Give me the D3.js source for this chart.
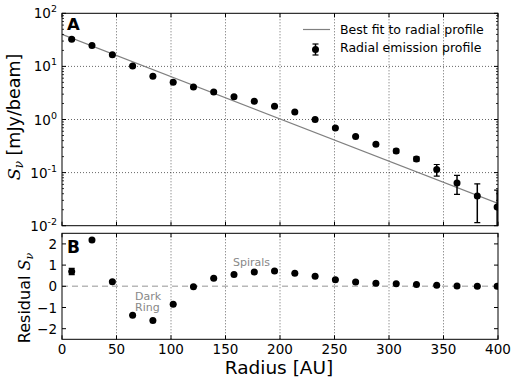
<!DOCTYPE html>
<html><head><meta charset="utf-8">
<script src="https://cdn.jsdelivr.net/npm/d3@7"></script>
<style>
body{margin:0;background:#fff;}
svg text{font-family:"DejaVu Sans",sans-serif;}
</style></head><body>
<svg id="c" width="518" height="385"></svg>
<script>
const radius = [8.9,27.5,46.2,64.8,83.4,102.0,120.6,139.2,157.8,176.4,195.0,213.6,232.2,250.8,269.4,288.0,306.6,325.2,343.8,362.4,381.0,399.2];
const flux = [32.5,24.7,16.5,10.2,6.54,5.04,4.11,3.31,2.67,2.21,1.78,1.39,1.0,0.695,0.479,0.343,0.256,0.181,0.114,0.064,0.0364,0.0226];
const fluxErr = [1.5,0.8,0.5,0.3,0.2,0.15,0.12,0.1,0.08,0.06,0.05,0.04,0.03,0.02,0.015,0.015,0.02,0.017,0.028,0.025,0.025,0.024];
const residual = [0.7,2.18,0.22,-1.36,-1.61,-0.85,-0.02,0.38,0.56,0.67,0.72,0.61,0.47,0.31,0.2,0.14,0.12,0.09,0.05,0.02,0.0,0.0];
const residualErr = [0.15,0.05,0.04,0.03,0.03,0.03,0.03,0.03,0.03,0.03,0.03,0.03,0.03,0.03,0.03,0.03,0.03,0.03,0.03,0.03,0.03,0.03];
const fitRadius = [0,400];
const fitFlux = [40,0.0262];
const xTicks = [0,50,100,150,200,250,300,350,400];
const yTicksA = [-2,-1,0,1,2];
const yTicksB = [-2,-1,0,1,2];

const svg = d3.select("#c");
const L=62, R=498, Atop=13.3, Abot=225.7, Btop=233.3, Bbot=339.3;
const x = d3.scaleLinear().domain([0,400]).range([L,R]);
const yA = d3.scaleLog().domain([0.01,100]).range([Abot,Atop]);
const yB = d3.scaleLinear().domain([-2.5,2.5]).range([Bbot,Btop]);

svg.append("defs").html(`<clipPath id="clipA"><rect x="${L}" y="${Atop}" width="${R-L}" height="${Abot-Atop}"/></clipPath>
<clipPath id="clipB"><rect x="${L}" y="${Btop}" width="${R-L}" height="${Bbot-Btop}"/></clipPath>`);

// grids
const gA = svg.append("g");
gA.selectAll("line.vx").data(xTicks.slice(1,-1)).join("line")
  .attr("x1",d=>x(d)).attr("x2",d=>x(d)).attr("y1",Atop).attr("y2",Abot)
  .attr("stroke","#000").attr("stroke-width",0.6).attr("stroke-dasharray","1,2");
gA.selectAll("line.hy").data(yTicksA.slice(1,-1)).join("line")
  .attr("x1",L).attr("x2",R).attr("y1",d=>yA(Math.pow(10,d))).attr("y2",d=>yA(Math.pow(10,d)))
  .attr("stroke","#000").attr("stroke-width",0.6).attr("stroke-dasharray","1,2");
const gB = svg.append("g");
gB.selectAll("line").data(xTicks.slice(1,-1)).join("line")
  .attr("x1",d=>x(d)).attr("x2",d=>x(d)).attr("y1",Btop).attr("y2",Bbot)
  .attr("stroke","#000").attr("stroke-width",0.6).attr("stroke-dasharray","1,2");

// zero line
svg.append("line").attr("x1",L).attr("x2",R).attr("y1",yB(0)).attr("y2",yB(0))
  .attr("stroke","#b8b8b8").attr("stroke-width",1.5).attr("stroke-dasharray","6,4");

// fit line
const line = d3.line().x((d,i)=>x(fitRadius[i])).y((d,i)=>yA(fitFlux[i]));
svg.append("path").attr("clip-path","url(#clipA)").attr("d",line(fitRadius))
  .attr("fill","none").attr("stroke","#808080").attr("stroke-width",1.2);

function errBar(g, cx, lo, hi, capLo){
  g.append("line").attr("x1",cx).attr("x2",cx).attr("y1",lo).attr("y2",hi).attr("stroke","#000").attr("stroke-width",1.5);
  g.append("line").attr("x1",cx-3).attr("x2",cx+3).attr("y1",hi).attr("y2",hi).attr("stroke","#000").attr("stroke-width",1.2);
  if (capLo) g.append("line").attr("x1",cx-3).attr("x2",cx+3).attr("y1",lo).attr("y2",lo).attr("stroke","#000").attr("stroke-width",1.2);
}

// panel A points
const pA = svg.append("g").attr("clip-path","url(#clipA)");
radius.forEach((r,i)=>{
  const v=flux[i], e=fluxErr[i];
  const ok = v-e>0;
  errBar(pA, x(r), ok? yA(v-e) : Abot+10, yA(v+e), ok);
});
pA.selectAll("circle").data(radius).join("circle")
  .attr("cx",d=>x(d)).attr("cy",(d,i)=>yA(flux[i])).attr("r",3.5).attr("fill","#000");

// panel B points
const pB = svg.append("g").attr("clip-path","url(#clipB)");
radius.forEach((r,i)=>{
  const v=residual[i], e=residualErr[i];
  errBar(pB, x(r), yB(v-e), yB(v+e), true);
});
pB.selectAll("circle").data(radius).join("circle")
  .attr("cx",d=>x(d)).attr("cy",(d,i)=>yB(residual[i])).attr("r",3.5).attr("fill","#000");

// ticks (inward)
function xTicksFor(top,bot){
  const g=svg.append("g");
  xTicks.forEach(t=>{
    g.append("line").attr("x1",x(t)).attr("x2",x(t)).attr("y1",bot).attr("y2",bot-4).attr("stroke","#000");
    g.append("line").attr("x1",x(t)).attr("x2",x(t)).attr("y1",top).attr("y2",top+4).attr("stroke","#000");
  });
}
xTicksFor(Atop,Abot); xTicksFor(Btop,Bbot);
const gt = svg.append("g");
yTicksA.forEach(p=>{
  const yy=yA(Math.pow(10,p));
  gt.append("line").attr("x1",L).attr("x2",L+4).attr("y1",yy).attr("y2",yy).attr("stroke","#000");
  gt.append("line").attr("x1",R).attr("x2",R-4).attr("y1",yy).attr("y2",yy).attr("stroke","#000");
  if (p<2) for(let k=2;k<10;k++){
    const ym=yA(k*Math.pow(10,p));
    gt.append("line").attr("x1",L).attr("x2",L+2).attr("y1",ym).attr("y2",ym).attr("stroke","#000").attr("stroke-width",0.8);
    gt.append("line").attr("x1",R).attr("x2",R-2).attr("y1",ym).attr("y2",ym).attr("stroke","#000").attr("stroke-width",0.8);
  }
  const tx=gt.append("text").attr("x",L-5).attr("y",yy+5).attr("text-anchor","end").attr("font-size",13.5);
  tx.append("tspan").text("10");
  tx.append("tspan").attr("dy",-6).attr("font-size",9.5).text(String(p));
});
yTicksB.forEach(t=>{
  const yy=yB(t);
  gt.append("line").attr("x1",L).attr("x2",L+4).attr("y1",yy).attr("y2",yy).attr("stroke","#000");
  gt.append("line").attr("x1",R).attr("x2",R-4).attr("y1",yy).attr("y2",yy).attr("stroke","#000");
  gt.append("text").attr("x",L-5).attr("y",yy+5).attr("text-anchor","end").attr("font-size",13.5).text(String(t).replace("-","\u2212"));
});
xTicks.forEach(t=>{
  gt.append("text").attr("x",x(t)).attr("y",Bbot+14.5).attr("text-anchor","middle").attr("font-size",13.5).text(t);
});

// frames
[[Atop,Abot],[Btop,Bbot]].forEach(([t,b])=>{
  svg.append("rect").attr("x",L).attr("y",t).attr("width",R-L).attr("height",b-t)
    .attr("fill","none").attr("stroke","#000").attr("stroke-width",1);
});

// panel labels
svg.append("text").attr("x",67).attr("y",30).attr("font-size",16.5).attr("font-weight","bold").text("A");
svg.append("text").attr("x",67).attr("y",252.5).attr("font-size",17).attr("font-weight","bold").text("B");

// annotations
svg.append("text").attr("x",135).attr("y",299.5).attr("font-size",11).attr("fill","#888").text("Dark");
svg.append("text").attr("x",135).attr("y",311).attr("font-size",11).attr("fill","#888").text("Ring");
svg.append("text").attr("x",233).attr("y",266).attr("font-size",11).attr("fill","#888").text("Spirals");

// legend
svg.append("line").attr("x1",303).attr("x2",330).attr("y1",29.5).attr("y2",29.5).attr("stroke","#808080").attr("stroke-width",1.2);
svg.append("text").attr("x",340).attr("y",33.5).attr("font-size",12.5).text("Best fit to radial profile");
svg.append("line").attr("x1",315.5).attr("x2",315.5).attr("y1",44).attr("y2",55).attr("stroke","#000").attr("stroke-width",1.5);
svg.append("line").attr("x1",312.5).attr("x2",318.5).attr("y1",44).attr("y2",44).attr("stroke","#000").attr("stroke-width",1.2);
svg.append("line").attr("x1",312.5).attr("x2",318.5).attr("y1",55).attr("y2",55).attr("stroke","#000").attr("stroke-width",1.2);
svg.append("circle").attr("cx",315.5).attr("cy",49.5).attr("r",3.5).attr("fill","#000");
svg.append("text").attr("x",340).attr("y",51.7).attr("font-size",12.5).text("Radial emission profile");

// axis labels
const yl = svg.append("text").attr("transform","translate(20,117) rotate(-90)").attr("text-anchor","middle").attr("font-size",17.5);
yl.append("tspan").attr("font-style","italic").attr("font-family","DejaVu Serif").text("S");
yl.append("tspan").attr("font-style","italic").attr("font-family","DejaVu Serif").attr("font-size",12).attr("dy",3).text("ν");
yl.append("tspan").attr("dy",-3).text(" [mJy/beam]");
const yl2 = svg.append("text").attr("transform","translate(30,298) rotate(-90)").attr("text-anchor","middle").attr("font-size",16);
yl2.append("tspan").text("Residual ");
yl2.append("tspan").attr("font-style","italic").attr("font-family","DejaVu Serif").text("S");
yl2.append("tspan").attr("font-style","italic").attr("font-family","DejaVu Serif").attr("font-size",11).attr("dy",3).text("ν");
svg.append("text").attr("x",279).attr("y",373.5).attr("text-anchor","middle").attr("font-size",18.5).text("Radius [AU]");
</script>
</body></html>
